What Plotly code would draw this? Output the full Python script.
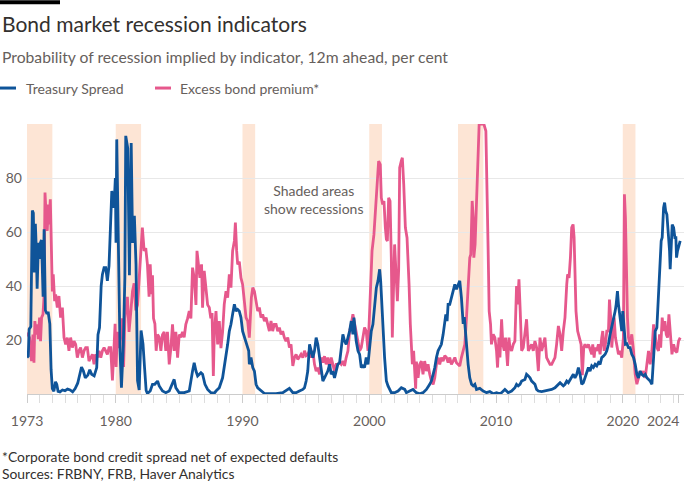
import plotly.graph_objects as go

# ---------------- data ----------------
ts_year = [1973.00,1973.10,1973.17,1973.30,1973.42,1973.50,1973.58,1973.66,1973.73,1973.80,1973.90,1973.98,
 1974.06,1974.14,1974.20,1974.27,1974.35,1974.45,1974.55,1974.68,1974.80,1974.90,1975.00,1975.12,1975.25,
 1975.35,1975.45,1975.60,1975.80,1976.00,1976.20,1976.40,1976.60,1976.80,1977.00,1977.15,1977.30,1977.45,
 1977.60,1977.80,1977.95,1978.10,1978.30,1978.50,1978.60,1978.72,1978.85,1978.95,1979.08,1979.21,1979.34,
 1979.47,1979.60,1979.69,1979.79,1979.90,1979.97,1980.02,1980.08,1980.19,1980.34,1980.45,1980.60,1980.72,
 1980.79,1980.95,1981.08,1981.22,1981.33,1981.47,1981.60,1981.72,1981.85,1982.00,1982.15,1982.27,1982.40,
 1982.50,1982.72,1982.90,1983.08,1983.30,1983.43,1983.69,1983.95,1984.22,1984.48,1984.61,1984.74,1985.00,
 1985.40,1985.80,1986.06,1986.19,1986.33,1986.46,1986.72,1986.85,1987.04,1987.25,1987.51,1987.78,1987.91,
 1988.17,1988.43,1988.70,1988.83,1988.96,1989.09,1989.22,1989.36,1989.49,1989.62,1989.75,1989.88,1990.01,
 1990.15,1990.28,1990.41,1990.49,1990.54,1990.67,1990.81,1990.94,1991.07,1991.20,1991.46,1991.73,1992.12,
 1992.65,1993.18,1993.57,1993.70,1993.97,1994.23,1994.49,1994.76,1994.89,1995.02,1995.15,1995.29,1995.42,
 1995.55,1995.68,1995.81,1995.94,1996.08,1996.21,1996.34,1996.47,1996.60,1996.73,1996.87,1997.00,1997.13,
 1997.26,1997.39,1997.52,1997.66,1997.79,1997.92,1998.05,1998.18,1998.32,1998.45,1998.58,1998.71,1998.79,
 1998.90,1998.97,1999.11,1999.24,1999.37,1999.50,1999.63,1999.76,1999.90,2000.03,2000.16,2000.29,2000.42,
 2000.56,2000.69,2000.82,2000.90,2001.00,2001.11,2001.21,2001.35,2001.48,2001.74,2002.00,2002.27,2002.53,
 2002.80,2002.93,2003.19,2003.45,2003.72,2003.98,2004.24,2004.51,2004.77,2004.90,2005.04,2005.17,2005.30,
 2005.43,2005.56,2005.69,2005.83,2005.96,2006.04,2006.14,2006.22,2006.35,2006.48,2006.62,2006.75,2006.88,
 2007.01,2007.14,2007.27,2007.41,2007.50,2007.60,2007.70,2007.80,2007.93,2008.07,2008.20,2008.33,2008.46,
 2008.72,2008.99,2009.25,2009.51,2009.78,2010.04,2010.30,2010.44,2010.70,2010.83,2010.96,2011.23,2011.49,
 2011.62,2011.75,2011.89,2012.02,2012.28,2012.41,2012.55,2012.68,2012.81,2012.94,2013.07,2013.20,2013.34,
 2013.60,2013.86,2014.13,2014.39,2014.65,2014.92,2015.05,2015.18,2015.31,2015.44,2015.58,2015.71,2015.84,
 2015.97,2016.10,2016.23,2016.37,2016.50,2016.63,2016.76,2016.89,2017.02,2017.16,2017.29,2017.42,2017.55,
 2017.68,2017.82,2017.95,2018.08,2018.21,2018.34,2018.47,2018.61,2018.74,2018.87,2019.00,2019.13,2019.26,
 2019.40,2019.48,2019.58,2019.66,2019.74,2019.84,2019.92,2020.00,2020.05,2020.13,2020.21,2020.32,2020.45,
 2020.58,2020.71,2020.85,2020.98,2021.11,2021.24,2021.37,2021.50,2021.64,2021.77,2021.90,2022.03,2022.16,
 2022.30,2022.43,2022.56,2022.69,2022.82,2022.95,2023.03,2023.11,2023.22,2023.30,2023.38,2023.48,2023.61,
 2023.69,2023.74,2023.82,2023.90,2024.01,2024.11,2024.19,2024.24,2024.32,2024.43,2024.53]
ts_val = [13.5,14,24,25,68,67,45,63,54,39,56,50,
 56,57,48,36,61,31,30,30,26,9,2,1,4.5,
 3.5,1,0.8,1.5,1.2,1.8,1.5,0.8,2,4,7,10,8.5,
 6,7,9,7.3,6.7,9.8,22,24.6,40,44.3,46.8,46.8,41.9,
 47.4,65.3,75.2,69,72.7,80,56,94.3,56.7,16,2.3,18.4,43,
 95.6,91,44,93,56,66,48,5,1.5,23.5,18.6,10,1.3,
 0.2,1.1,3.6,3.6,4.8,3,1.1,0.5,1.1,3.6,5.4,2.3,0.5,
 0.5,1.1,8.5,11.6,8.5,6.7,7.9,7.3,3.6,1.7,0.5,0.3,1.1,
 2.3,6,13.5,18.4,23.3,25.8,29.5,33.2,30.7,31.3,30.7,28.3,23.3,
 20.9,18.4,17.2,16,11,13.5,9.8,8.5,3.6,2.3,1.1,0.2,0.1,
 0.1,0.5,1.7,2.1,0.5,0.5,1.1,1.7,2.3,4.8,8.5,18.4,16,
 13.5,16,20.9,18.4,13.5,7.3,4.8,6,7.3,8.5,11,7.3,8.5,
 6,8.5,11,11.6,18.4,22.1,19.6,18.4,20.9,23.3,27,22.1,28.3,
 23.3,19.6,16,14.7,9.8,10.4,9.8,13.5,11,16,23.3,25.8,33.2,
 39.4,41.9,46.2,41.9,30.7,20.9,13.5,4.8,3,0.5,0.5,1.1,2.3,
 1.7,0.5,1.1,1.7,0.5,0.1,0.5,1.7,3.6,4.8,7.3,9.8,13.5,
 16,17.2,18.4,22.1,28.3,29.5,27,33.2,33.2,35.7,38.1,40.6,38.8,
 40.6,41.9,35.7,26,28.5,22,15,11,6,3.6,3,3.6,1.7,
 2.1,1.1,0.5,0.9,0.1,0.5,0.1,0.5,1.7,1.1,0.5,1.1,2.3,
 3.6,3,3.6,4.8,5.4,7.3,6.7,6,4.8,4.2,3.6,1.7,1.1,
 0.9,1.1,1.4,1.7,2.3,3.6,4.2,3.6,3,3.6,4.8,4.2,5.4,
 6.7,7.3,6,7.3,9.8,7.3,3.6,4.2,6,8.5,9.8,8.5,10.4,
 9.8,11,10.4,11.6,11,13.5,14,14.7,16,18.4,22.1,24.6,27,
 30.7,33.2,38.1,33.2,29.5,25.8,23.3,30.7,28.3,23.3,18.4,18.6,17.2,
 17.2,14.7,13.5,11,7.3,6,8.5,7.3,6.7,7.3,6,5.4,4.8,
 3.6,13.5,23.3,24.6,38.1,54.2,56.7,58,69,70.9,67.8,66.5,59.1,
 53,46.2,55.4,62.8,61.6,57.9,57.9,50.5,53,55.4,56.7]

ebp_year = [1973.00,1973.10,1973.20,1973.28,1973.36,1973.47,1973.55,1973.62,1973.73,1973.81,1973.89,1973.99,
 1974.07,1974.15,1974.26,1974.34,1974.42,1974.52,1974.60,1974.68,1974.73,1974.84,1974.92,1975.00,1975.07,
 1975.18,1975.26,1975.39,1975.52,1975.65,1975.79,1975.92,1976.05,1976.18,1976.31,1976.44,1976.58,1976.71,
 1976.84,1976.97,1977.10,1977.23,1977.37,1977.50,1977.63,1977.76,1977.89,1978.03,1978.16,1978.29,1978.42,
 1978.55,1978.68,1978.82,1978.95,1979.08,1979.21,1979.34,1979.47,1979.60,1979.74,1979.85,1979.95,1980.03,
 1980.13,1980.25,1980.35,1980.50,1980.62,1980.72,1980.92,1981.05,1981.20,1981.32,1981.45,1981.58,1981.72,
 1981.85,1981.98,1982.10,1982.24,1982.37,1982.50,1982.63,1982.72,1982.82,1982.90,1982.98,1983.09,1983.19,
 1983.30,1983.43,1983.56,1983.69,1983.82,1983.95,1984.08,1984.22,1984.35,1984.48,1984.61,1984.74,1984.88,
 1985.01,1985.14,1985.27,1985.40,1985.53,1985.67,1985.80,1985.93,1986.06,1986.19,1986.33,1986.41,1986.51,
 1986.64,1986.77,1986.85,1986.98,1987.10,1987.25,1987.38,1987.50,1987.60,1987.70,1987.78,1987.91,1988.04,
 1988.17,1988.30,1988.43,1988.56,1988.70,1988.83,1988.96,1989.09,1989.22,1989.36,1989.44,1989.54,1989.62,
 1989.75,1989.88,1990.01,1990.15,1990.28,1990.41,1990.54,1990.62,1990.70,1990.81,1990.94,1991.07,1991.20,
 1991.33,1991.46,1991.59,1991.73,1991.86,1991.99,1992.12,1992.25,1992.38,1992.51,1992.65,1992.78,1992.91,
 1993.04,1993.17,1993.30,1993.43,1993.57,1993.70,1993.83,1993.97,1994.10,1994.23,1994.36,1994.49,1994.62,
 1994.76,1994.89,1995.02,1995.15,1995.29,1995.42,1995.55,1995.68,1995.81,1995.94,1996.08,1996.21,1996.34,
 1996.47,1996.60,1996.73,1996.87,1997.00,1997.13,1997.26,1997.39,1997.52,1997.66,1997.79,1997.92,1998.05,
 1998.18,1998.32,1998.45,1998.58,1998.71,1998.84,1998.97,1999.11,1999.24,1999.37,1999.50,1999.63,1999.76,
 1999.90,2000.03,2000.11,2000.22,2000.37,2000.48,2000.64,2000.74,2000.87,2000.95,2001.06,2001.16,2001.27,
 2001.35,2001.43,2001.53,2001.64,2001.74,2001.82,2001.92,2002.00,2002.11,2002.22,2002.32,2002.40,2002.53,
 2002.61,2002.72,2002.85,2002.98,2003.06,2003.14,2003.24,2003.32,2003.40,2003.50,2003.58,2003.66,2003.72,
 2003.85,2003.98,2004.11,2004.24,2004.37,2004.51,2004.64,2004.77,2004.90,2005.04,2005.17,2005.30,2005.43,
 2005.56,2005.69,2005.83,2005.96,2006.09,2006.22,2006.35,2006.48,2006.62,2006.75,2006.88,2007.01,2007.14,
 2007.27,2007.41,2007.54,2007.67,2007.80,2007.93,2008.01,2008.12,2008.20,2008.25,2008.35,2008.46,2008.59,
 2008.67,2008.85,2009.04,2009.20,2009.30,2009.38,2009.46,2009.57,2009.64,2009.78,2009.91,2010.04,2010.12,
 2010.23,2010.31,2010.44,2010.54,2010.65,2010.75,2010.83,2010.91,2011.02,2011.10,2011.23,2011.36,2011.49,
 2011.62,2011.70,2011.81,2011.91,2012.02,2012.15,2012.28,2012.41,2012.55,2012.68,2012.81,2012.94,2013.07,
 2013.20,2013.34,2013.47,2013.60,2013.73,2013.86,2013.99,2014.13,2014.26,2014.39,2014.52,2014.65,2014.78,
 2014.92,2015.05,2015.18,2015.31,2015.44,2015.58,2015.65,2015.76,2015.87,2015.97,2016.08,2016.16,2016.23,
 2016.31,2016.44,2016.58,2016.71,2016.81,2016.92,2017.02,2017.16,2017.29,2017.42,2017.55,2017.63,2017.74,
 2017.82,2017.95,2018.08,2018.21,2018.34,2018.42,2018.53,2018.63,2018.74,2018.87,2018.95,2019.05,2019.13,
 2019.21,2019.32,2019.42,2019.53,2019.66,2019.79,2019.92,2020.05,2020.13,2020.21,2020.27,2020.37,2020.45,
 2020.58,2020.71,2020.85,2020.98,2021.11,2021.24,2021.37,2021.50,2021.64,2021.77,2021.90,2022.03,2022.16,
 2022.30,2022.43,2022.56,2022.69,2022.82,2022.90,2022.99,2023.11,2023.22,2023.32,2023.43,2023.53,2023.64,
 2023.74,2023.88,2024.01,2024.14,2024.27,2024.40,2024.53]
ebp_val = [22.7,22,20.9,16,12.2,22,11.6,27,22,25.8,20.3,28.3,
 19.6,28.3,29.5,35.7,74.6,65.3,60.4,70.2,62.8,72.1,48,38,44.3,
 34.4,36.9,32,36.3,28.3,32,20.9,18.4,20.9,16,20.9,17.2,19.6,
 18.4,13.5,16,17.2,13.5,16,17.2,17.2,12.2,13.5,14.7,11,14.7,
 13.5,16,13.5,16,17.2,16,14.7,17.2,17.2,5,20,26,10,
 23,17,21,28,10,28,36,23,31,38,41,31,33,
 42,50,61.6,53,54,48,36,48,37,44,28,26,16,
 22,21,16,22,23,16,23,11,17,25.8,16,23,13.5,
 22,21,23,21,25.8,28,30.7,28,46.8,43,33,53,49,
 43,48,32,45.6,40,33,32,28,30,6.7,23,30.7,18.4,
 27,17,23,33.2,38.1,35.7,44.3,39.4,53,56.7,63.5,53,48,
 49,43,40.6,33.2,28.3,27,20.9,28.3,35.7,39.4,38,34.4,30.7,
 32,28.3,29.5,27,28.3,25.8,23.3,27,23.3,25.8,25.8,23.3,24.6,
 22.1,23.3,20.9,19.6,20.9,17.2,18.4,10.4,13.5,14.7,12.8,14,14.7,
 13.5,16,14.2,14.7,16,13.5,16,11,8.5,9.8,7.3,13.5,11.6,
 14,11,13.5,9.8,13.5,11,8.5,11,11,11.6,11,12.2,10.4,
 13.5,16,23.3,25.8,29.5,25.8,22.1,18.4,16,17.2,20.9,24.6,23.3,
 16,30.7,40.6,53,59.1,67.8,77.7,86.3,85,72.7,70.2,71.5,61.6,
 57.3,56.7,72.7,71.5,50.5,20.9,40.6,55.4,45,34.4,46,83.8,86.3,
 87.5,77.7,61.6,57.9,50,40.6,25.8,16,11,16,8.5,2,12,
 6,11,12.2,7.3,12.2,8.5,11,7.3,4.8,3.6,6,11,13.5,
 11,13.5,12.2,14.2,13.5,11.6,13.5,11,12.2,13.5,11.6,11,10.4,
 13.5,16,18.4,28.3,38.1,50.5,51.7,71.5,65.3,50.5,55.4,71.5,90,
 99.9,100,100,97.4,77.7,53,30.7,25.8,18.4,22.1,20.9,16,9.8,
 20.9,13.5,27.7,18.4,16,20.9,16,10.4,20.9,17.2,16,18.4,19.6,
 40,33.2,42.5,30.7,16,17.2,22.1,27.7,16,17.2,18.4,16,19.6,
 17.2,8.5,20.9,16,18.4,20.9,13.5,12.2,11,11,12.2,13.5,18.4,
 25.2,22.1,16,23.3,28.3,40.6,44.3,43,50.5,61.6,62.8,58,40.6,
 30.7,23.3,20.9,18.4,7,17.2,18.4,17.2,18.4,16,14.7,18.4,13.5,
 17.2,16,18.4,14.7,20.9,23.3,16,18.4,23.3,23.3,35,28.3,17.2,
 22.1,28.3,20.9,17.2,14.7,16,13.5,20.9,74,65.3,50.5,28.3,20.9,
 18.4,22.1,16,7.3,3.6,6,8.5,7.3,8.5,6,12.2,16,11,
 16,25.8,20.9,17.2,16,22.1,17.2,28.3,23.3,27,22.1,20.9,29.5,
 23.3,14.7,18.4,16,15.4,19.6,20.9]

recession_start = [1973, 1980, 1990, 2000, 2007, 2020]
recession_end = [1975, 1982, 1991, 2001, 2009, 2021]

y_ticks = [20, 40, 60, 80]
x_tick_vals = [1973, 1980, 1990, 2000, 2010, 2020, 2024.42]
x_tick_text = ["1973", "1980", "1990", "2000", "2010", "2020", "2024"]

# ---------------- styling ----------------
BLUE = "#0f5499"
PINK = "#e6588c"
SHADE = "#fde5d5"
GREY = "#66605c"
DARK = "#33302e"
FONT = "Lato"

W, H = 700, 500
L, R, T, B = 27, 684, 124, 394.3


def px_x(px):
    return (px - L) / (R - L)


def px_y(py):
    return (B - py) / (B - T)


fig = go.Figure()
fig.add_trace(go.Scatter(x=ebp_year, y=ebp_val, mode="lines", name="Excess bond premium*",
                         line=dict(color=PINK, width=2.8), showlegend=False, hoverinfo="skip"))
fig.add_trace(go.Scatter(x=ts_year, y=ts_val, mode="lines", name="Treasury Spread",
                         line=dict(color=BLUE, width=2.8), showlegend=False, hoverinfo="skip"))

shapes = []
for s, e in zip(recession_start, recession_end):
    shapes.append(dict(type="rect", xref="x", yref="y", x0=s, x1=e, y0=0, y1=100,
                       fillcolor=SHADE, line=dict(width=0), layer="below"))
# black bar top-left
shapes.append(dict(type="rect", xref="paper", yref="paper", x0=px_x(0), x1=px_x(60),
                   y0=px_y(4), y1=px_y(0), fillcolor="#000000", line=dict(width=0)))
# legend keys
shapes.append(dict(type="line", xref="paper", yref="paper", x0=px_x(0), x1=px_x(16),
                   y0=px_y(88), y1=px_y(88), line=dict(color=BLUE, width=3)))
shapes.append(dict(type="line", xref="paper", yref="paper", x0=px_x(155), x1=px_x(171),
                   y0=px_y(88), y1=px_y(88), line=dict(color=PINK, width=3)))

annotations = [
    dict(text="Bond market recession indicators", x=px_x(0), y=px_y(23), xref="paper", yref="paper",
         xanchor="left", yanchor="middle", showarrow=False, font=dict(family=FONT, size=21, color=DARK)),
    dict(text="Probability of recession implied by indicator, 12m ahead, per cent", x=px_x(0), y=px_y(57),
         xref="paper", yref="paper", xanchor="left", yanchor="middle", showarrow=False,
         font=dict(family=FONT, size=15.7, color=GREY)),
    dict(text="Treasury Spread", x=px_x(24), y=px_y(88), xref="paper", yref="paper",
         xanchor="left", yanchor="middle", showarrow=False, font=dict(family=FONT, size=14, color=GREY)),
    dict(text="Excess bond premium*", x=px_x(178), y=px_y(88), xref="paper", yref="paper",
         xanchor="left", yanchor="middle", showarrow=False, font=dict(family=FONT, size=14, color=GREY)),
    dict(text="Shaded areas<br>show recessions", x=px_x(313), y=px_y(200), xref="paper", yref="paper",
         xanchor="center", yanchor="middle", align="center", showarrow=False,
         font=dict(family=FONT, size=14, color=GREY)),
    dict(text="*Corporate bond credit spread net of expected defaults", x=px_x(0), y=px_y(457),
         xref="paper", yref="paper", xanchor="left", yanchor="middle", showarrow=False,
         font=dict(family=FONT, size=13.9, color=DARK)),
    dict(text="Sources: FRBNY, FRB, Haver Analytics", x=px_x(0), y=px_y(474),
         xref="paper", yref="paper", xanchor="left", yanchor="middle", showarrow=False,
         font=dict(family=FONT, size=13.9, color=DARK)),
    # last x label, right-aligned on its tick like the reference
    dict(text=x_tick_text[-1], x=x_tick_vals[-1], xref="x", y=px_y(421), yref="paper",
         xanchor="right", yanchor="middle", xshift=2, showarrow=False,
         font=dict(family=FONT, size=14, color=GREY)),
]

fig.update_layout(
    width=W, height=H,
    margin=dict(l=L, r=W - R, t=T, b=H - B, pad=0, autoexpand=False),
    paper_bgcolor="white", plot_bgcolor="white",
    font=dict(family=FONT, color=GREY),
    shapes=shapes, annotations=annotations,
    showlegend=False,
    xaxis=dict(range=[1973, 2024.83], tickmode="array", tickvals=x_tick_vals,
               ticktext=x_tick_text[:-1] + [""],
               automargin=False,
               ticks="outside", ticklen=8, tickcolor="#cccccc", tickwidth=1,
               showline=True, linecolor="#cccccc", linewidth=1, showgrid=False, zeroline=False,
               tickfont=dict(family=FONT, size=14, color=GREY), ticklabelstandoff=6,
               minor=dict(tickmode="linear", tick0=1973, dtick=1, ticks="outside", ticklen=8,
                          tickcolor="#dddddd", tickwidth=1, showgrid=False)),
    yaxis=dict(range=[0, 100], tickmode="array", tickvals=y_ticks, showgrid=True, automargin=False,
               gridcolor="#e8e8e8", gridwidth=1, zeroline=False, showline=False, ticks="",
               tickfont=dict(family=FONT, size=14, color=GREY), ticklabelstandoff=4),
)

fig.write_html("out.html", config={"displayModeBar": False},
               post_script="document.body.style.margin='0px';")
